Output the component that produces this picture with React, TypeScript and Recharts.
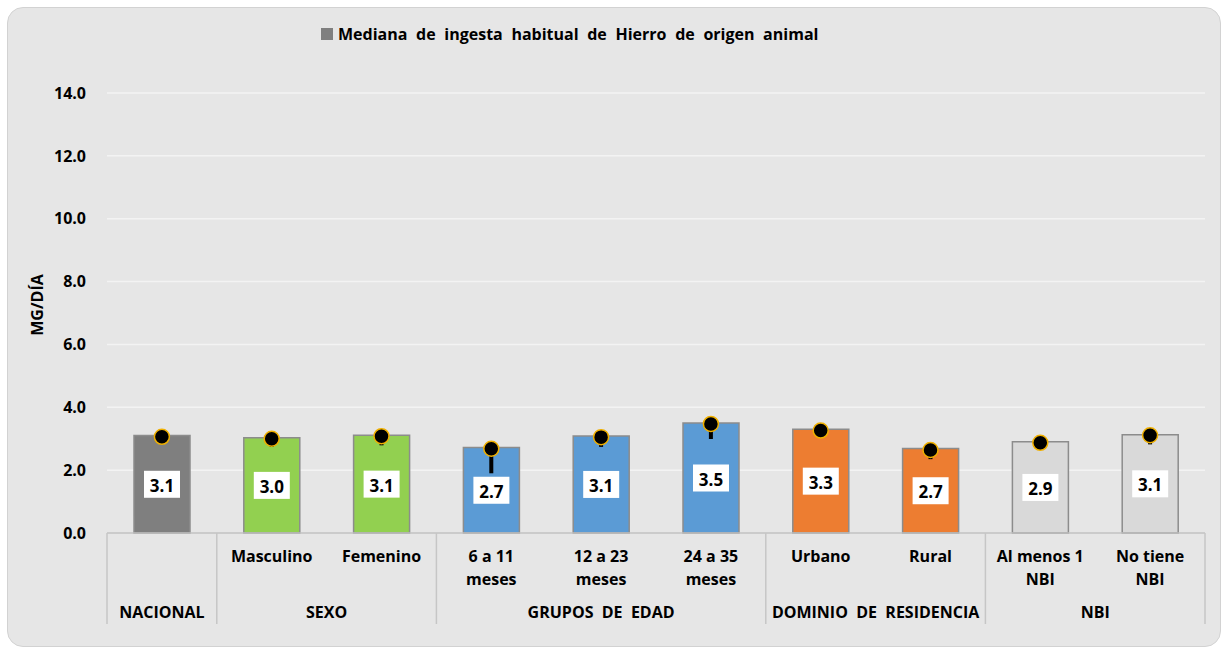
import React from "react";
import {
  ComposedChart,
  Bar,
  Line,
  Cell,
  XAxis,
  YAxis,
  CartesianGrid,
  LabelList,
  ErrorBar,
} from "recharts";

const FONT = "'Open Sans', 'Noto Sans', sans-serif";

// categories (one per bar) and the text shown under each bar
const categories = [
  "Nacional",
  "Masculino",
  "Femenino",
  "6 a 11 meses",
  "12 a 23 meses",
  "24 a 35 meses",
  "Urbano",
  "Rural",
  "Al menos 1 NBI",
  "No tiene NBI",
];
const tickLines = [
  [],
  ["Masculino"],
  ["Femenino"],
  ["6 a 11", "meses"],
  ["12 a 23", "meses"],
  ["24 a 35", "meses"],
  ["Urbano"],
  ["Rural"],
  ["Al menos 1", "NBI"],
  ["No tiene", "NBI"],
];

// second level of the category axis
const groupNames = ["NACIONAL", "SEXO", "GRUPOS  DE  EDAD", "DOMINIO  DE  RESIDENCIA", "NBI"];
const groupSizes = [1, 2, 3, 2, 2];
const groupColors = ["#7f7f7f", "#92d050", "#5b9bd5", "#ed7d31", "#d9d9d9"];

// mediana (mg/día), marker and lower bound of the error bar
const medianValues = [3.1, 3.03, 3.11, 2.72, 3.09, 3.5, 3.3, 2.69, 2.9, 3.13];
const markerValues = [3.06, 3.0, 3.08, 2.68, 3.05, 3.47, 3.26, 2.64, 2.87, 3.11];
const lowerValues = [2.85, 2.74, 2.79, 1.9, 2.74, 2.99, 3.05, 2.35, 2.7, 2.82];

const yTicks = [0, 2, 4, 6, 8, 10, 12, 14];

const CHART_W = 1212;
const CHART_H = 638;
const MARGIN = { top: 85, right: 15, bottom: 13, left: 39 };
const YAXIS_W = 60;
const XAXIS_H = 100;

const groupStarts: number[] = [];
const groupOf: number[] = [];
groupSizes.reduce((start, size, g) => {
  groupStarts.push(start);
  for (let i = 0; i < size; i++) groupOf.push(g);
  return start + size;
}, 0);

const data = categories.map((name, i) => ({
  name,
  median: medianValues[i],
  marker: markerValues[i],
  err: [markerValues[i] - lowerValues[i], 0],
}));

const fallbackHalf =
  (CHART_W - MARGIN.left - MARGIN.right - YAXIS_W) / categories.length / 2;

const textStyle = {
  fontFamily: FONT,
  fontWeight: 700,
  fontSize: 16,
  fill: "#000",
  whiteSpace: "pre" as const,
};

function CategoryTick(props: any) {
  const { x, y, payload } = props;
  const index = payload.index;
  const half = payload.offset || fallbackHalf;
  const lines = tickLines[index] || [];
  const g = groupStarts.indexOf(index);
  const lineColor = "#c6c6c6";
  return (
    <g>
      {lines.map((l: string, i: number) => (
        <text
          key={i}
          x={x}
          y={y + 23 + i * 23}
          textAnchor="middle"
          dominantBaseline="central"
          style={textStyle}
        >
          {l}
        </text>
      ))}
      {g >= 0 && (
        <>
          <line x1={x - half} x2={x - half} y1={y} y2={y + 91} stroke={lineColor} strokeWidth={1.5} />
          <text
            x={x - half + groupSizes[g] * half}
            y={y + 79}
            textAnchor="middle"
            dominantBaseline="central"
            style={textStyle}
          >
            {groupNames[g]}
          </text>
        </>
      )}
      {index === categories.length - 1 && (
        <line x1={x + half} x2={x + half} y1={y} y2={y + 91} stroke={lineColor} strokeWidth={1.5} />
      )}
    </g>
  );
}

function ValueLabel(props: any) {
  const vb = props.viewBox || props;
  const cx = vb.x + vb.width / 2;
  const cy = vb.y + vb.height / 2;
  return (
    <g>
      <rect x={cx - 18} y={cy - 13.5} width={36} height={27} fill="#fff" />
      <text
        x={cx}
        y={cy + 1}
        textAnchor="middle"
        dominantBaseline="central"
        style={{ ...textStyle, fontSize: 17 }}
      >
        {Number(props.value).toFixed(1)}
      </text>
    </g>
  );
}

function AxisTitle(props: any) {
  const vb = props.viewBox;
  const x = vb.x - 10;
  const y = vb.y + vb.height / 2 - 8;
  return (
    <text
      x={x}
      y={y}
      transform={`rotate(-90, ${x}, ${y})`}
      textAnchor="middle"
      dominantBaseline="central"
      style={textStyle}
    >
      MG/DÍA
    </text>
  );
}

export default function App() {
  return (
    <div
      style={{
        position: "fixed",
        left: 7,
        top: 7,
        width: 1214,
        height: 640,
        boxSizing: "border-box",
        background: "#e6e6e6",
        border: "1px solid #d2d2d2",
        borderRadius: 16,
        overflow: "hidden",
      }}
    >
      <div
        style={{
          position: "absolute",
          left: 313,
          top: 18,
          display: "flex",
          alignItems: "center",
          height: 16,
          fontFamily: FONT,
          fontWeight: 700,
          fontSize: 16,
          wordSpacing: 4.5,
          color: "#000",
          whiteSpace: "nowrap",
        }}
      >
        <span
          style={{
            display: "inline-block",
            width: 12,
            height: 12,
            background: groupColors[0],
            marginRight: 5,
          }}
        />
        Mediana de ingesta habitual de Hierro de origen animal
      </div>
      <ComposedChart width={CHART_W} height={CHART_H} data={data} margin={MARGIN}>
        <CartesianGrid vertical={false} stroke="#f3f3f3" strokeWidth={1.5} />
        <XAxis
          dataKey="name"
          interval={0}
          height={XAXIS_H}
          tickSize={0}
          tickMargin={0}
          tickLine={false}
          axisLine={{ stroke: "#bfbfbf", strokeWidth: 1.5 }}
          tick={<CategoryTick />}
        />
        <YAxis
          width={YAXIS_W}
          domain={[0, 14]}
          ticks={yTicks}
          interval={0}
          axisLine={false}
          tickLine={false}
          tickSize={0}
          tickMargin={21}
          tickFormatter={(v: number) => v.toFixed(1)}
          tick={{ fill: "#000", fontSize: 16, fontWeight: 700, fontFamily: FONT }}
          label={<AxisTitle />}
        />
        <Bar
          dataKey="median"
          barSize={56}
          stroke="#8c8c8c"
          strokeWidth={1.5}
          isAnimationActive={false}
        >
          {data.map((_, i) => (
            <Cell key={`cell-${i}`} fill={groupColors[groupOf[i]]} />
          ))}
          <LabelList dataKey="median" content={<ValueLabel />} />
        </Bar>
        <Line
          dataKey="marker"
          stroke="none"
          isAnimationActive={false}
          activeDot={false}
          legendType="none"
          dot={{ r: 7.5, fill: "#000", stroke: "#f0b000", strokeWidth: 1.5 }}
        >
          <ErrorBar dataKey="err" direction="y" width={0} stroke="#000" strokeWidth={4} />
        </Line>
      </ComposedChart>
    </div>
  );
}
